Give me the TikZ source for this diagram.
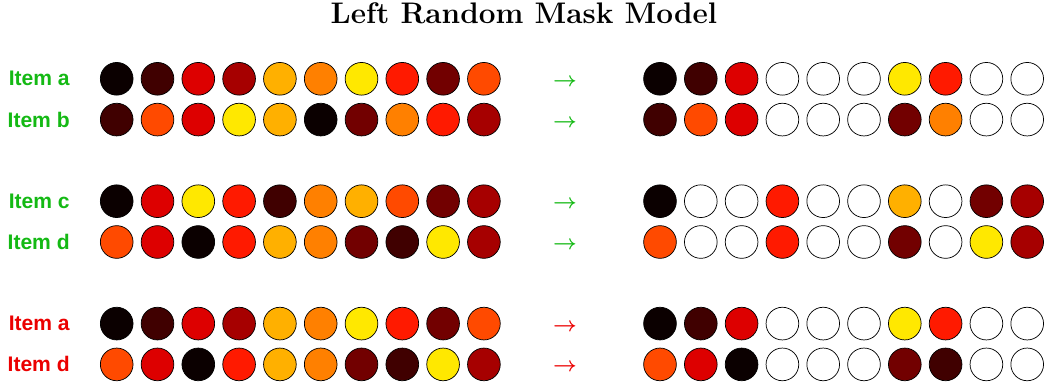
\documentclass[tikz,border=0pt]{standalone}
\usepackage{fontspec}
\newfontfamily\labelfont{Liberation Sans}
\definecolor{K}{HTML}{0B0000}
\definecolor{D1}{HTML}{400000}
\definecolor{D2}{HTML}{720000}
\definecolor{D3}{HTML}{A60000}
\definecolor{R1}{HTML}{DD0000}
\definecolor{R2}{HTML}{FF1A00}
\definecolor{O1}{HTML}{FF4A00}
\definecolor{O2}{HTML}{FF8000}
\definecolor{A}{HTML}{FFB000}
\definecolor{Y}{HTML}{FFE800}
\definecolor{W}{HTML}{FFFFFF}
\definecolor{labgreen}{RGB}{20,185,20}
\definecolor{labred}{RGB}{235,0,0}
\newcommand\dotrow[4]{%
  \foreach \c [count=\i from 0] in {#4} {
    \node[dot, fill=\c] (#1-\i) at ({#3+40.8*\i},#2) {};
  }}
\begin{document}
\begin{tikzpicture}[x=0.6974pt,y=-0.6974pt,
  dot/.style={circle,draw=black,line width=0.5pt,minimum size=22.8pt,inner sep=0pt},
  itemlabel/.style={anchor=east,inner sep=0pt,font=\labelfont\bfseries\fontsize{14.7}{17}\selectfont},
  arrowlabel/.style={inner sep=0pt,font=\fontsize{15}{17}\selectfont\boldmath},
  title/.style={inner sep=0pt,font=\huge\bfseries}]
\useasboundingbox (0,0) rectangle (1044,386);
\node[title] (title) at (524,13.5) {Left Random Mask Model};
% rows
\node[itemlabel,text=labgreen] (la1) at (70,78.8) {Item a};
\node[itemlabel,text=labgreen] (lb1) at (70,119.6) {Item b};
\node[itemlabel,text=labgreen] (lc1) at (70,201.2) {Item c};
\node[itemlabel,text=labgreen] (ld1) at (70,242.0) {Item d};
\node[itemlabel,text=labred] (la2) at (70,323.6) {Item a};
\node[itemlabel,text=labred] (ld2) at (70,364.4) {Item d};
\node[arrowlabel,text=labgreen] (ar1) at (565,82.3) {$\rightarrow$};
\node[arrowlabel,text=labgreen] (ar2) at (565,123.1) {$\rightarrow$};
\node[arrowlabel,text=labgreen] (ar3) at (565,204.7) {$\rightarrow$};
\node[arrowlabel,text=labgreen] (ar4) at (565,245.5) {$\rightarrow$};
\node[arrowlabel,text=labred] (ar5) at (565,327.1) {$\rightarrow$};
\node[arrowlabel,text=labred] (ar6) at (565,367.9) {$\rightarrow$};
% left circles
\dotrow{La}{78.8}{116.7}{K,D1,R1,D3,A,O2,Y,R2,D2,O1}
\dotrow{Lb}{119.6}{116.7}{D1,O1,R1,Y,A,K,D2,O2,R2,D3}
\dotrow{Lc}{201.2}{116.7}{K,R1,Y,R2,D1,O2,A,O1,D2,D3}
\dotrow{Ld}{242.0}{116.7}{O1,R1,K,R2,A,O2,D2,D1,Y,D3}
\dotrow{Le}{323.6}{116.7}{K,D1,R1,D3,A,O2,Y,R2,D2,O1}
\dotrow{Lf}{364.4}{116.7}{O1,R1,K,R2,A,O2,D2,D1,Y,D3}
% right circles
\dotrow{Ra}{78.8}{660}{K,D1,R1,W,W,W,Y,R2,W,W}
\dotrow{Rb}{119.6}{660}{D1,O1,R1,W,W,W,D2,O2,W,W}
\dotrow{Rc}{201.2}{660}{K,W,W,R2,W,W,A,W,D2,D3}
\dotrow{Rd}{242.0}{660}{O1,W,W,R2,W,W,D2,W,Y,D3}
\dotrow{Re}{323.6}{660}{K,D1,R1,W,W,W,Y,R2,W,W}
\dotrow{Rf}{364.4}{660}{O1,R1,K,W,W,W,D2,D1,W,W}
\end{tikzpicture}
\end{document}
